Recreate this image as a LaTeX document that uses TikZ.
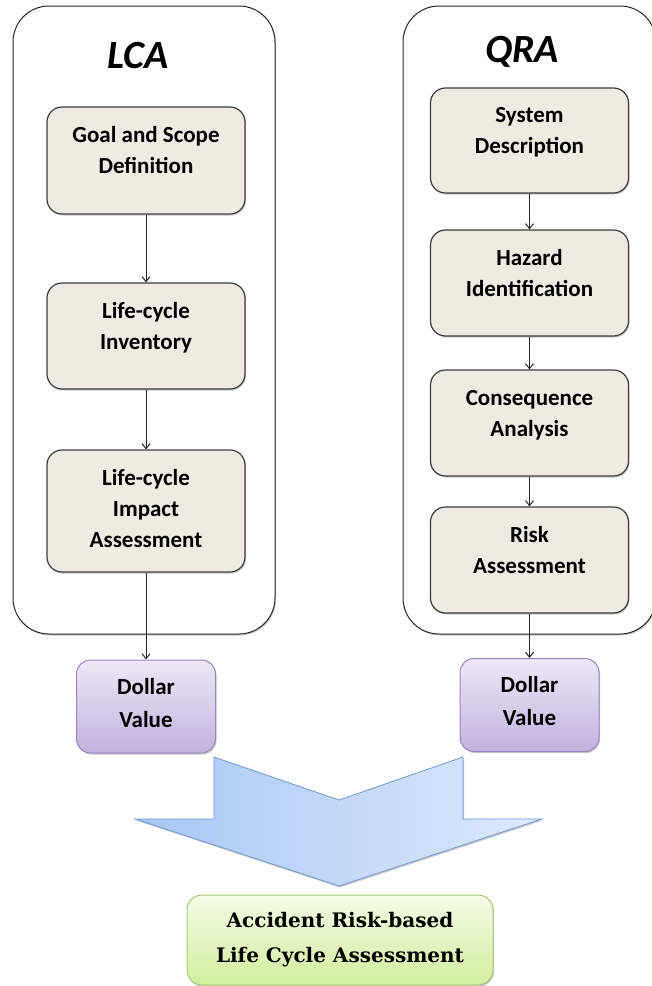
\documentclass[tikz,border=0pt]{standalone}
\usepackage{fontspec}
\setmainfont{Carlito}
\newfontfamily\resultfont{DejaVu Serif}
\usepackage{xcolor}
\usetikzlibrary{positioning, arrows.meta, shadows}

\definecolor{stagefill}{HTML}{EEECE1}
\definecolor{stageline}{HTML}{3C3C3C}
\definecolor{dollartop}{HTML}{EEE8F6}
\definecolor{dollarbot}{HTML}{C3B1DE}
\definecolor{dollarline}{HTML}{9A84C4}
\definecolor{mergeleft}{HTML}{A9C6F6}
\definecolor{mergeright}{HTML}{DEE9FB}
\definecolor{mergeline}{HTML}{6F9AD5}
\definecolor{resulttop}{HTML}{F3FBE6}
\definecolor{resultbot}{HTML}{D2EF9E}
\definecolor{resultline}{HTML}{A6C872}

\begin{document}
\begin{tikzpicture}[x=1pt, y=-1pt,
    softshadow/.style={drop shadow={shadow xshift=1pt, shadow yshift=-1.5pt, opacity=0.35, fill=black!60}},
    panel/.style={draw=black!85, line width=1pt, fill=white, rounded corners=36pt, softshadow},
    paneltitle/.style={font=\fontsize{40}{42}\selectfont\bfseries\itshape},
    stage/.style={draw=stageline, line width=1.2pt, fill=stagefill, rounded corners=15pt,
        minimum width=198pt, align=center, text height=46pt, text depth=20pt,
        font=\fontsize{23}{31}\selectfont\bfseries, softshadow},
    dollar/.style={draw=dollarline, line width=1pt, top color=dollartop, bottom color=dollarbot,
        rounded corners=14pt, minimum width=139pt, minimum height=93pt, align=center,
        text height=48pt, text depth=7pt, font=\fontsize{23}{33}\selectfont\bfseries, softshadow},
    flow/.style={draw=black!85, line width=1pt, -{Straight Barb[length=5pt, width=8pt]}}
  ]
  \useasboundingbox (0,0) rectangle (652,986);

  % LCA column
  \node[panel, minimum width=262pt, minimum height=628pt] (lcapanel) at (144,320) {};
  \node[paneltitle] (lcatitle) at (138,56) {LCA};

  \node[stage, minimum height=107pt] (goal) at (146,160.5) {Goal and Scope\\Definition};
  \node[stage, minimum height=106pt] (inventory) at (146,336) {Life-cycle\\Inventory};
  \node[stage, minimum height=122pt, text height=78pt, text depth=6pt] (impact) at (146,511) {Life-cycle\\Impact\\Assessment};

  \node[dollar] (dollarl) at (146,706.5) {Dollar\\Value};

  % QRA column
  \node[panel, minimum width=253pt, minimum height=628pt] (qrapanel) at (529.5,320) {};
  \node[paneltitle] (qratitle) at (522,52) {QRA};

  \node[stage, minimum height=105pt] (system) at (529.5,140.5) {System\\Description};
  \node[stage, minimum height=106pt] (hazard) at (529.5,283) {Hazard\\Identification};
  \node[stage, minimum height=106pt] (consequence) at (529.5,423) {Consequence\\Analysis};
  \node[stage, minimum height=106pt] (risk) at (529.5,560) {Risk\\Assessment};

  \node[dollar] (dollarr) at (529.5,705) {Dollar\\Value};

  % connectors
  \draw[flow] (goal) -- (inventory);
  \draw[flow] (inventory) -- (impact);
  \draw[flow] (impact) -- (dollarl);
  \draw[flow] (system) -- (hazard);
  \draw[flow] (hazard) -- (consequence);
  \draw[flow] (consequence) -- (risk);
  \draw[flow] (risk) -- (dollarr);

  % merging arrow
  \draw[draw=mergeline, line width=0.8pt, left color=mergeleft, right color=mergeright, softshadow]
    (214,757) -- (339,800) -- (463,757) -- (463,819) -- (542,819)
    -- (339,886) -- (135,819) -- (214,819) -- cycle;

  % result
  \node[draw=resultline, line width=1pt, top color=resulttop, bottom color=resultbot,
    rounded corners=15pt, minimum width=306pt, minimum height=90pt, align=center,
    font=\resultfont\bfseries\fontsize{20}{35}\selectfont, softshadow] (result) at (340,940)
    {Accident Risk-based\\Life Cycle Assessment};
\end{tikzpicture}
\end{document}
